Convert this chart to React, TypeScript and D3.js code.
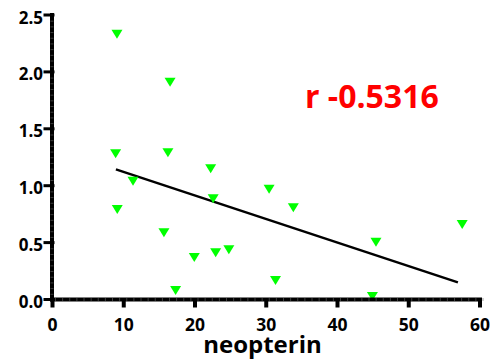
import React from "react";
import * as d3 from "d3";

const neopterin = [9.05, 16.5, 8.86, 16.2, 22.2, 11.3, 22.55, 9.09, 15.64, 19.9, 22.9, 24.75, 17.28, 30.4, 33.8, 31.3, 45.4, 57.5, 44.9];
const yValues = [2.33, 1.91, 1.28, 1.29, 1.15, 1.04, 0.886, 0.79, 0.587, 0.37, 0.41, 0.437, 0.08, 0.968, 0.807, 0.167, 0.504, 0.66, 0.026];
const fitX = [8.9, 56.9];
const fitY = [1.144, 0.15];
const xTicks = [0, 10, 20, 30, 40, 50, 60];
const yTicks = [0, 0.5, 1.0, 1.5, 2.0, 2.5];
const rLabel = "r -0.5316";
const xLabel = "neopterin";

const W = 495;
const H = 362;
const FONT = "'Open Sans', 'Liberation Sans', sans-serif";

export default function App() {
  const x = d3.scaleLinear().domain([0, 60]).range([52.5, 480]);
  const y = d3.scaleLinear().domain([0, 2.5]).range([299.5, 15]);
  const line = d3.line<number>().x((_, i) => x(fitX[i])).y((_, i) => y(fitY[i]));
  const tri = d3.symbol().type(d3.symbolTriangle).size(1);
  const minorX = d3.range(0, 60.01, 1);
  const minorY = d3.range(0, 2.501, 0.05);

  return (
    <svg width={W} height={H} style={{ position: "absolute", left: 0, top: 0, background: "#fff" }}>
      {/* fit line */}
      <path d={line([0, 1]) || ""} stroke="#000" strokeWidth={2.5} fill="none" />
      {/* points */}
      {neopterin.map((v, i) => {
        const cx = x(v);
        const cy = y(yValues[i]);
        return (
          <path
            key={i}
            d={`M${cx - 5.5},${cy - 4.5}L${cx + 5.5},${cy - 4.5}L${cx},${cy + 4.5}Z`}
            fill="#00ff00"
          />
        );
      })}
      {/* y axis */}
      <line x1={x(0) - 0.5} x2={x(0) - 0.5} y1={y(2.5) - 2} y2={y(0) + 2} stroke="#000" strokeWidth={4} />
      {minorY.map((t, i) => (
        <line key={"my" + i} x1={x(0) - 2} x2={x(0) + 1} y1={y(t) + 0.5} y2={y(t) + 0.5} stroke="#666" strokeWidth={0.6} />
      ))}
      {yTicks.map((t) => (
        <g key={"y" + t}>
          <line x1={x(0) - 9} x2={x(0) + 2} y1={y(t)} y2={y(t)} stroke="#000" strokeWidth={3} />
          <text
            x={43}
            y={y(t) + 2}
            textAnchor="end"
            dominantBaseline="central"
            fontFamily={FONT}
            fontWeight={700}
            fontSize={17}
            fill="#000"
          >
            {d3.format(".1f")(t)}
          </text>
        </g>
      ))}
      {/* x axis */}
      <line x1={x(0) - 2.5} x2={x(60) + 2} y1={y(0)} y2={y(0)} stroke="#000" strokeWidth={4} />
      {minorX.map((t, i) => (
        <line key={"mx" + i} x1={x(t) + 3} x2={x(t) + 3} y1={y(0) - 1.5} y2={y(0) + 1.5} stroke="#666" strokeWidth={0.6} />
      ))}
      {xTicks.map((t) => (
        <g key={"x" + t}>
          <line x1={x(t)} x2={x(t)} y1={y(0)} y2={y(0) + 8} stroke="#000" strokeWidth={4} />
          <text
            x={x(t)}
            y={331}
            textAnchor="middle"
            fontFamily={FONT}
            fontWeight={700}
            fontSize={17.5}
            fill="#000"
          >
            {t}
          </text>
        </g>
      ))}
      <text x={262.5} y={353} textAnchor="middle" fontFamily={FONT} fontWeight={700} fontSize={24} fill="#000">
        {xLabel}
      </text>
      <text x={305} y={108} fontFamily={FONT} fontWeight={700} fontSize={32} fill="#ff0000">
        {rLabel}
      </text>
    </svg>
  );
}
